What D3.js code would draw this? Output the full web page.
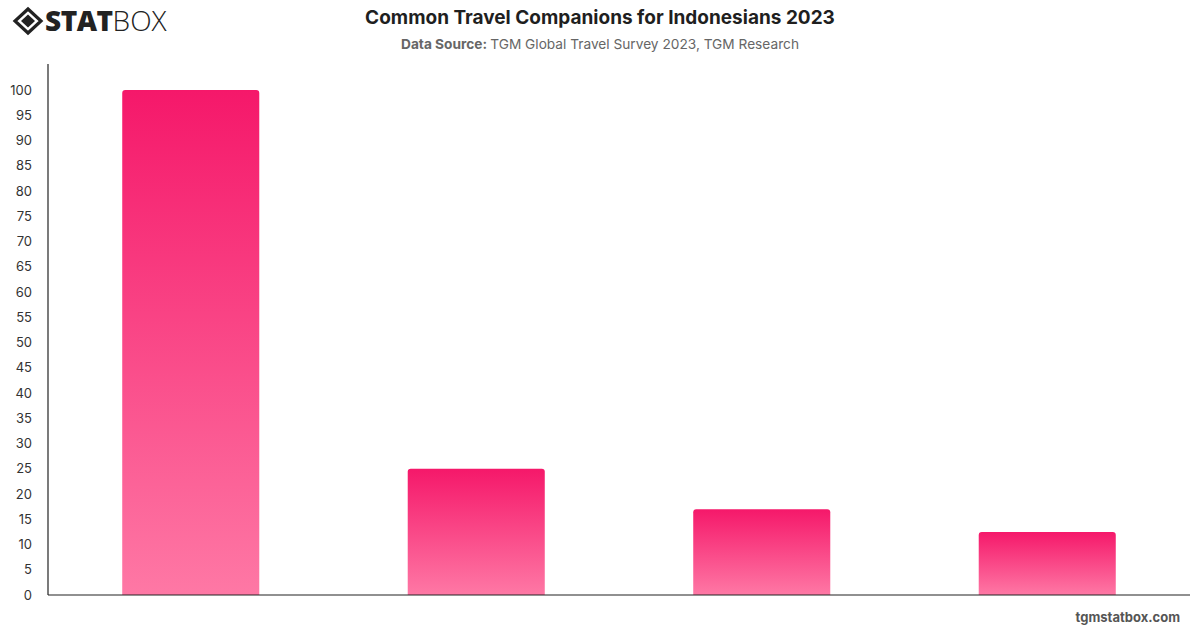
<!DOCTYPE html>
<html>
<head>
<meta charset="utf-8">
<script src="https://cdn.jsdelivr.net/npm/d3@7"></script>
<style>
  body { margin: 0; background: #fff; }
  svg { display: block; font-family: Inter, "Helvetica Neue", Arial, sans-serif; }
</style>
</head>
<body>
<svg width="1200" height="628"></svg>
<script>
// chart data
const categories = ["Family", "Partner", "Friends", "Alone"];
const values = [100, 25, 17, 12.5];
const yTicks = d3.range(0, 101, 5);

const svg = d3.select("svg");
const width = +svg.attr("width");

const margin = { left: 48, right: 10, top: 64, bottom: 33 };
const plotBottom = 595;
const plotRight = 1190;

const x = d3.scaleBand()
    .domain(categories)
    .range([margin.left, plotRight])
    .paddingInner(0.52)
    .paddingOuter(0.26);

const y = d3.scaleLinear()
    .domain([0, 100])
    .range([plotBottom, 90]);

// gradient for the bars
const defs = svg.append("defs");
const grad = defs.append("linearGradient")
    .attr("id", "barGrad")
    .attr("x1", 0).attr("y1", 0)
    .attr("x2", 0).attr("y2", 1);
grad.append("stop").attr("offset", "0%").attr("stop-color", "#f5186a");
grad.append("stop").attr("offset", "100%").attr("stop-color", "#fe78a5");

// bars with rounded top corners
function topRounded(x0, y0, w, h, r) {
    return `M${x0},${y0 + h} L${x0},${y0 + r} Q${x0},${y0} ${x0 + r},${y0}
            L${x0 + w - r},${y0} Q${x0 + w},${y0} ${x0 + w},${y0 + r}
            L${x0 + w},${y0 + h} Z`;
}

svg.selectAll("path.bar")
    .data(values)
    .enter()
    .append("path")
    .attr("class", "bar")
    .attr("fill", "url(#barGrad)")
    .attr("d", (d, i) => topRounded(x(categories[i]), y(d), x.bandwidth(), y(0) - y(d), 3));

// y axis
const yAxis = d3.axisLeft(y).tickValues(yTicks).tickSize(0).tickPadding(16);
const gy = svg.append("g")
    .attr("transform", `translate(${margin.left},0)`)
    .call(yAxis);
gy.select(".domain").remove();
gy.selectAll("text")
    .attr("font-size", 13)
    .attr("fill", "#333")
    .attr("font-family", "Inter, sans-serif");

svg.append("line")
    .attr("x1", margin.left).attr("x2", margin.left)
    .attr("y1", margin.top).attr("y2", plotBottom)
    .attr("stroke", "#222").attr("stroke-width", 1.2);

// x axis (no labels shown)
svg.append("line")
    .attr("x1", margin.left).attr("x2", plotRight)
    .attr("y1", plotBottom).attr("y2", plotBottom)
    .attr("stroke", "#222").attr("stroke-width", 1.2);

// title and subtitle
svg.append("text")
    .attr("x", width / 2).attr("y", 24)
    .attr("text-anchor", "middle")
    .attr("font-size", 19)
    .attr("font-weight", 700)
    .attr("fill", "#1f1f1f")
    .text("Common Travel Companions for Indonesians 2023");

const sub = svg.append("text")
    .attr("x", width / 2).attr("y", 49)
    .attr("text-anchor", "middle")
    .attr("font-size", 13.7)
    .attr("fill", "#666");
sub.append("tspan").attr("font-weight", 700).text("Data Source: ");
sub.append("tspan").text("TGM Global Travel Survey 2023, TGM Research");

// footer
svg.append("text")
    .attr("x", 1180).attr("y", 622)
    .attr("text-anchor", "end")
    .attr("font-size", 13)
    .attr("font-weight", 700)
    .attr("fill", "#555")
    .text("tgmstatbox.com");

// logo
const logo = svg.append("g").attr("transform", "translate(28,21)");
logo.append("path")
    .attr("d", "M0,-12 L13,0 L0,12 L-13,0 Z")
    .attr("fill", "none").attr("stroke", "#222").attr("stroke-width", 3.2);
logo.append("path")
    .attr("d", "M0,-6.5 L7,0 L0,6.5 L-7,0 Z")
    .attr("fill", "#222");
const logoText = svg.append("text")
    .attr("x", 45).attr("y", 31)
    .attr("font-size", 28)
    .attr("fill", "#222")
    .attr("font-family", "'Open Sans', sans-serif");
logoText.append("tspan").attr("font-weight", 800).attr("letter-spacing", -0.5).text("STAT");
logoText.append("tspan").attr("font-weight", 300).text("BOX");
</script>
</body>
</html>
